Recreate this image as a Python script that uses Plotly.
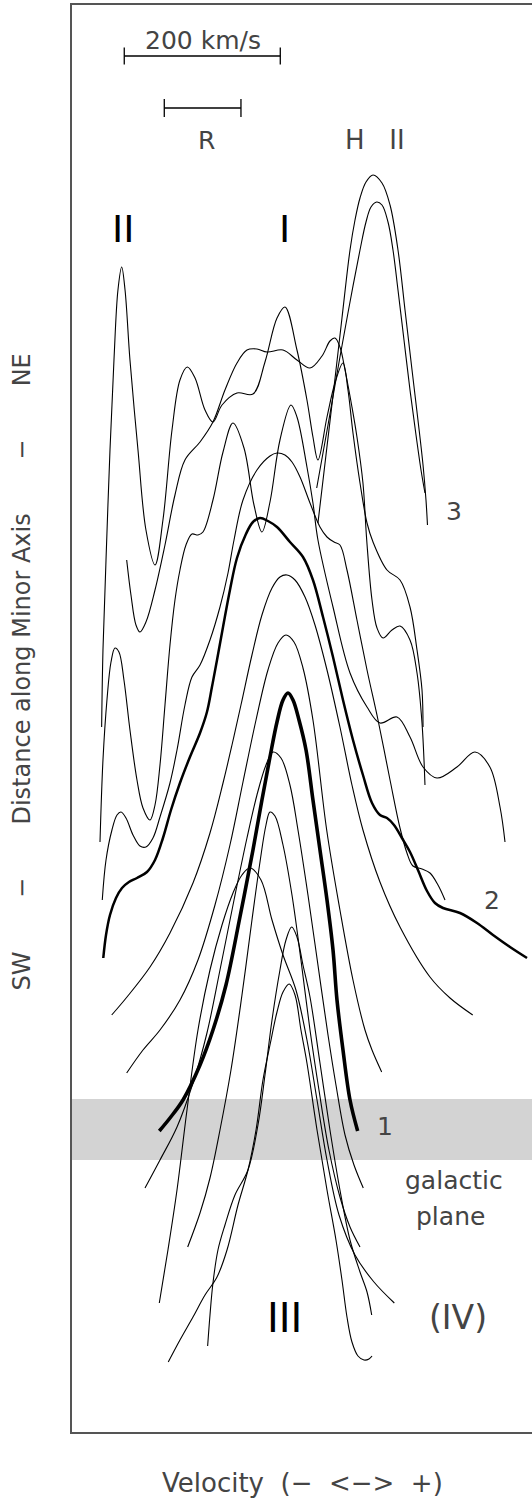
import plotly.graph_objects as go

# ---------------- data ----------------
# x: velocity (km/s, 0 = systemic), y: position along the minor axis (offset units)
X_RANGE = [-275.6, 314.1]
Y_RANGE = [0.0, 142.7]

# profile 3 (top): components II, I and the NE bump
vel_p3 = [-237.6, -235.9, -232.0, -226.9, -221.8, -216.7, -211.9, -207.6, -201.3, -191.0, -180.8,
          -169.2, -159.0, -147.4, -137.2, -127.8, -117.9, -105.1, -94.9, -83.3, -64.1, -43.6, -28.2,
          -12.8, -2.6, 12.8, 25.6, 33.3, 39.7, 51.3, 61.5, 71.8, 78.2, 84.6, 93.6, 102.6, 110.3,
          128.2, 144.9, 157.7, 166.7, 173.1, 174.4]
lev_p3 = [70.5, 78.2, 87.2, 98.2, 107.2, 114.2, 116.5, 114.2, 107.2, 98.2, 90.2,
          86.7, 91.2, 100.2, 105.2, 106.5, 105.4, 102.2, 101.0, 102.7, 103.9, 103.8, 107.0,
          111.4, 112.5, 108.2, 103.2, 99.5, 97.2, 101.5, 104.9, 106.9, 104.2, 99.9, 94.9, 90.9, 89.0,
          86.2, 85.2, 82.5, 78.2, 74.2, 70.5]

# H II profiles
vel_hii_a = [39.7, 50.0, 60.3, 70.5, 80.8, 87.2, 93.6, 101.3, 110.3, 121.8, 132.1, 142.3, 151.3,
             160.3, 167.9, 174.4, 178.2, 180.1]
lev_hii_a = [90.9, 97.7, 104.5, 111.4, 118.2, 121.2, 123.4, 125.0, 125.7, 124.9, 122.7, 118.2, 112.2,
             106.2, 101.2, 96.7, 93.2, 90.7]
vel_hii_b = [38.1, 52.6, 67.9, 80.8, 93.6, 101.3, 107.7, 115.0, 121.8, 129.5, 135.9, 142.3, 150.0,
             157.7, 165.4, 171.8, 176.9]
lev_hii_b = [94.4, 100.7, 107.5, 113.0, 118.2, 121.0, 122.5, 123.0, 122.7, 121.0, 118.2, 114.2, 109.2,
             104.2, 99.7, 96.2, 93.9]

# plateau profile
vel_p4 = [-205.5, -200.0, -193.6, -188.5, -180.8, -169.2, -156.4, -143.6, -130.8, -111.5, -94.9,
          -79.5, -64.1, -51.3, -38.5, -25.6, -5.1, 12.8, 29.5, 44.9, 55.1, 61.5, 67.9, 74.4, 83.3,
          89.7, 97.4, 102.2, 109.0, 115.4, 123.1, 134.6, 144.9, 157.7, 166.7, 173.1, 176.9]
lev_p4 = [87.2, 83.7, 80.7, 80.0, 81.0, 84.2, 88.7, 93.7, 97.2, 99.0, 101.0,
          104.2, 106.9, 108.2, 108.3, 108.0, 108.2, 107.2, 106.4, 107.6, 109.1, 109.4, 108.5, 106.2, 102.5,
          99.5, 94.9, 89.2, 83.2, 80.4, 79.4, 80.2, 80.6, 79.2, 75.9, 70.9, 64.7]

vel_p5 = [-239.7, -235.9, -230.8, -225.6, -220.5, -215.4, -209.0, -201.3, -192.3, -184.6, -175.6,
          -169.2, -162.8, -156.4, -150.0, -143.6, -137.2, -129.5, -121.8, -114.1, -107.7, -94.9,
          -82.0, -69.2, -55.1, -42.3, -32.1, -21.8, -9.0, 5.1, 12.8, 25.6, 33.3, 39.7, 59.0, 80.8,
          102.6, 119.2, 141.0, 157.7, 174.4, 192.3, 217.9, 241.0, 260.1, 273.1, 279.5]
lev_p5 = [59.0, 67.2, 73.2, 77.0, 78.4, 78.0, 75.2, 70.2, 65.2, 62.4, 61.2,
          62.7, 66.7, 72.7, 78.7, 83.2, 86.2, 88.7, 89.8, 89.7, 90.0, 93.2,
          98.0, 100.9, 98.4, 92.7, 90.0, 93.0, 99.2, 102.7, 101.5, 96.5, 92.9, 89.2, 82.5, 75.9,
          72.5, 70.9, 71.5, 69.5, 66.5, 65.4, 66.5, 68.0, 66.5, 62.5, 59.0]

vel_p6 = [-236.8, -232.0, -224.4, -217.9, -212.8, -206.4, -197.4, -188.5, -180.8, -171.8, -162.8,
          -150.0, -141.0, -130.8, -121.8, -111.5, -98.7, -85.9, -75.6, -67.9, -56.4, -38.5, -21.8,
          -12.8, -2.6, 6.4, 16.7, 29.5, 42.3, 51.3, 60.3, 67.9, 76.9, 89.7, 102.6, 116.7, 132.1,
          144.9, 153.8, 161.5, 173.1, 183.3, 193.6, 202.6]
lev_p6 = [53.2, 57.2, 60.2, 61.7, 62.0, 61.4, 59.7, 58.6, 58.5, 59.4, 61.5,
          64.9, 68.2, 72.7, 75.5, 76.7, 79.2, 82.5, 85.9, 89.2, 93.2, 96.2, 97.6,
          97.9, 97.7, 97.0, 95.5, 92.9, 90.5, 89.5, 89.0, 88.7, 86.2, 81.2, 76.2, 71.2, 65.2,
          60.4, 57.9, 56.6, 56.3, 55.9, 54.7, 53.2]

# profile 2 (bold)
vel_p2 = [-235.5, -232.0, -226.9, -219.2, -211.5, -202.6, -192.3, -179.5, -169.2, -159.0, -148.7,
          -137.2, -124.4, -111.5, -102.6, -96.2, -89.7, -82.0, -73.1, -64.1, -52.6, -43.6, -34.6,
          -24.4, -12.8, 3.8, 20.5, 33.3, 46.2, 59.0, 71.8, 84.6, 97.4, 109.0, 119.2, 128.2, 137.2,
          147.4, 157.7, 167.9, 179.5, 189.7, 200.0, 221.8, 243.6, 264.1, 285.9, 307.7]
lev_p2 = [47.4, 49.7, 51.7, 53.4, 54.4, 55.0, 55.4, 56.0, 57.2, 59.4, 62.2,
          64.9, 67.5, 69.9, 72.0, 74.5, 77.2, 80.5, 84.2, 87.4, 89.8, 91.0, 91.4,
          91.1, 90.5, 89.0, 87.5, 85.2, 81.5, 77.5, 73.2, 69.2, 65.7, 62.9, 61.7, 61.4, 60.7,
          59.4, 58.0, 56.2, 54.1, 52.9, 52.4, 51.9, 50.9, 49.7, 48.5, 47.4]

vel_p7 = [-224.7, -205.1, -175.6, -150.0, -120.5, -98.7, -82.0, -70.5, -59.0, -44.9, -32.1, -19.2,
          -9.0, 0.0, 10.3, 23.1, 35.9, 51.3, 67.9, 83.3, 97.4, 119.2, 144.9, 183.3, 209.0, 238.1]
lev_p7 = [41.7, 43.5, 46.5, 49.9, 54.9, 59.9, 64.9, 68.7, 72.7, 77.7, 81.7, 84.4,
          85.5, 85.7, 85.2, 83.5, 80.7, 76.2, 70.5, 64.7, 60.2, 55.0, 50.5, 45.5, 43.4, 41.7]

vel_p8 = [-205.5, -184.6, -162.8, -137.2, -114.1, -92.3, -73.1, -56.4, -39.7, -24.4, -11.5, -1.3,
          9.0, 20.5, 33.3, 50.9, 67.9, 84.6, 100.0, 109.0, 121.4]
lev_p8 = [35.9, 38.2, 40.2, 43.2, 47.2, 52.7, 58.7, 65.0, 71.2, 76.2, 78.9, 79.7,
          79.0, 76.4, 71.2, 60.2, 52.2, 45.2, 40.2, 38.2, 36.0]

# profile 1 (bold, in the galactic plane)
vel_p1 = [-163.7, -150.0, -133.3, -111.5, -94.9, -78.2, -60.3, -43.6, -32.1, -21.8, -12.8, -5.1,
          1.3, 7.7, 15.4, 24.4, 33.3, 42.3, 51.3, 59.0, 64.1, 71.8, 80.8, 90.6]
lev_p1 = [30.1, 31.4, 33.2, 36.7, 40.2, 44.7, 51.5, 58.2, 63.2, 67.5, 71.0, 73.2,
          73.9, 73.2, 71.2, 68.2, 63.2, 58.2, 53.2, 48.2, 43.2, 38.2, 33.2, 30.1]

vel_p9 = [-182.0, -162.8, -141.0, -120.5, -102.6, -85.9, -67.9, -51.3, -38.5, -26.9, -17.9, -7.7,
          3.8, 14.1, 26.9, 39.7, 52.6, 62.8, 74.4, 85.9, 97.8]
lev_p9 = [24.4, 27.2, 30.5, 34.9, 39.9, 46.2, 53.2, 59.4, 63.7, 66.7, 68.0, 67.4,
          64.7, 60.2, 53.7, 46.7, 39.7, 34.7, 29.7, 26.7, 24.4]

vel_p10 = [-127.3, -111.5, -98.7, -85.9, -71.8, -57.7, -44.9, -34.6, -26.9, -21.8, -15.4, -5.1,
           6.4, 17.9, 29.5, 41.0, 53.8, 67.9, 80.8, 93.6]
lev_p10 = [18.5, 21.9, 25.4, 30.2, 36.2, 43.7, 51.2, 57.0, 60.7, 62.0, 61.6, 58.7,
           53.7, 47.2, 40.2, 34.2, 28.2, 23.5, 20.5, 18.5]

vel_p11 = [-163.7, -152.6, -141.0, -128.2, -114.1, -98.7, -83.3, -69.2, -57.7, -47.4, -33.3, -19.2,
           -5.1, 11.5, 25.6, 38.5, 51.3, 66.7, 87.2, 111.5, 137.6]
lev_p11 = [12.9, 18.2, 24.2, 32.2, 40.2, 46.2, 50.7, 53.9, 55.7, 56.4, 55.2, 51.2,
           47.7, 44.2, 39.2, 33.2, 27.2, 21.7, 17.7, 15.0, 12.9]

vel_p12 = [-101.7, -98.7, -94.9, -88.5, -79.5, -66.7, -50.0, -37.2, -28.2, -19.2, -9.0, -1.3,
           6.0, 12.8, 20.5, 29.5, 42.3, 55.1, 67.9, 80.8, 93.6, 102.6, 108.6]
lev_p12 = [8.6, 11.7, 14.9, 18.2, 20.7, 23.7, 26.2, 30.7, 35.7, 41.2, 46.2, 49.2,
           50.5, 49.5, 46.7, 43.5, 36.9, 30.2, 24.2, 19.2, 16.0, 14.0, 11.7]

vel_p13 = [-152.2, -137.2, -120.5, -105.1, -89.7, -76.9, -62.8, -50.0, -39.7, -30.8, -21.8, -12.8,
           -5.1, 2.9, 10.3, 17.9, 25.6, 38.5, 51.3, 62.8, 70.5, 76.9, 83.3, 91.0, 98.7, 105.1, 109.0]
lev_p13 = [7.0, 9.2, 11.5, 13.7, 15.5, 18.2, 22.7, 26.2, 30.2, 35.2, 38.7, 42.0,
           44.0, 44.8, 43.7, 40.2, 36.9, 30.2, 24.2, 19.2, 15.2, 11.5, 9.0, 7.6, 7.2, 7.3, 7.6]

# galactic plane band (offset units)
galactic_plane = [27.2, 33.3]

# scale bars (km/s)
scale_start, scale_len = -208.6, 200.0
res_start, res_len = -157.3, 98.3

# ---------------- figure ----------------
THIN, BOLD1, BOLD2 = 1.1, 3.6, 2.5
profiles = [
    (vel_p3, lev_p3, THIN), (vel_hii_a, lev_hii_a, THIN), (vel_hii_b, lev_hii_b, THIN),
    (vel_p4, lev_p4, THIN), (vel_p5, lev_p5, THIN), (vel_p6, lev_p6, THIN),
    (vel_p2, lev_p2, BOLD2), (vel_p7, lev_p7, THIN), (vel_p8, lev_p8, THIN),
    (vel_p1, lev_p1, BOLD1), (vel_p9, lev_p9, THIN), (vel_p10, lev_p10, THIN),
    (vel_p11, lev_p11, THIN), (vel_p12, lev_p12, THIN), (vel_p13, lev_p13, THIN),
]

fig = go.Figure()
fig.add_shape(type="rect", xref="paper", x0=0, x1=1, yref="y",
              y0=galactic_plane[0], y1=galactic_plane[1],
              fillcolor="#d3d3d3", line_width=0, layer="below")

for v, l, w in profiles:
    fig.add_trace(go.Scatter(x=v, y=l, mode="lines", hoverinfo="skip", showlegend=False,
                             line=dict(color="black", width=w, shape="spline", smoothing=1.0)))

def bar(x0, length, y, tick):
    x1 = x0 + length
    return ([x0, x1, None, x0, x0, None, x1, x1],
            [y, y, None, y - tick, y + tick, None, y - tick, y + tick])

bx, by = bar(scale_start, scale_len, 137.6, 0.85)
rx, ry = bar(res_start, res_len, 132.4, 0.9)
fig.add_trace(go.Scatter(x=bx + [None] + rx, y=by + [None] + ry, mode="lines",
                         hoverinfo="skip", showlegend=False,
                         line=dict(color="black", width=1.3)))

def thin(size):
    return dict(family="DejaVu Sans", size=size, color="#444444")
def heavy(size):
    return dict(family="DejaVu Sans", size=size, color="black")

labels = [
    ("200\u00a0km/s", -107.7, 139.2, thin(25)),
    ("R", -102.9, 129.2, thin(25)),
    ("H\u00a0\u00a0\u00a0II", 112.5, 129.2, thin(26)),
    ("II", -209.9, 120.3, heavy(38)),
    ("I", -2.6, 120.3, heavy(38)),
    ("3", 214.4, 92.1, thin(25)),
    ("2", 262.8, 53.2, thin(25)),
    ("1", 125.6, 30.6, thin(25)),
    ("galactic", 213.5, 25.2, thin(25)),
    ("plane", 210.1, 21.55, thin(25)),
    ("III", -2.6, 11.4, heavy(40)),
    ("(IV)", 218.6, 11.45, thin(33)),
]
for txt, x, y, f in labels:
    fig.add_annotation(text=txt, x=x, y=y, xref="x", yref="y", showarrow=False,
                       xanchor="center", yanchor="middle", font=f)

fig.add_annotation(text="Velocity\u00a0\u00a0(\u2212\u00a0\u00a0<\u2212>\u00a0\u00a0+)",
                   x=0.5, y=-0.0357, xref="paper", yref="paper", showarrow=False,
                   xanchor="center", yanchor="middle", font=thin(26))
nb = "\u00a0" * 7
fig.add_annotation(text="SW" + nb + "\u2212" + nb + "Distance along Minor Axis" + nb + "\u2212" + nb + "NE",
                   x=-0.1087, y=0.533, xref="paper", yref="paper", showarrow=False,
                   textangle=-90, xanchor="center", yanchor="middle", font=thin(24))

axis_common = dict(showticklabels=False, ticks="", showgrid=False, zeroline=False,
                   showline=True, linecolor="#555555", linewidth=1.5, fixedrange=True)
fig.update_layout(
    width=532, height=1501,
    margin=dict(l=72, r=0, t=5, b=69),
    paper_bgcolor="white", plot_bgcolor="white",
    xaxis=dict(range=X_RANGE, mirror=True, **axis_common),
    yaxis=dict(range=Y_RANGE, mirror=False, **axis_common),
    showlegend=False,
)

fig.write_html("out.html", config={"displayModeBar": False})
